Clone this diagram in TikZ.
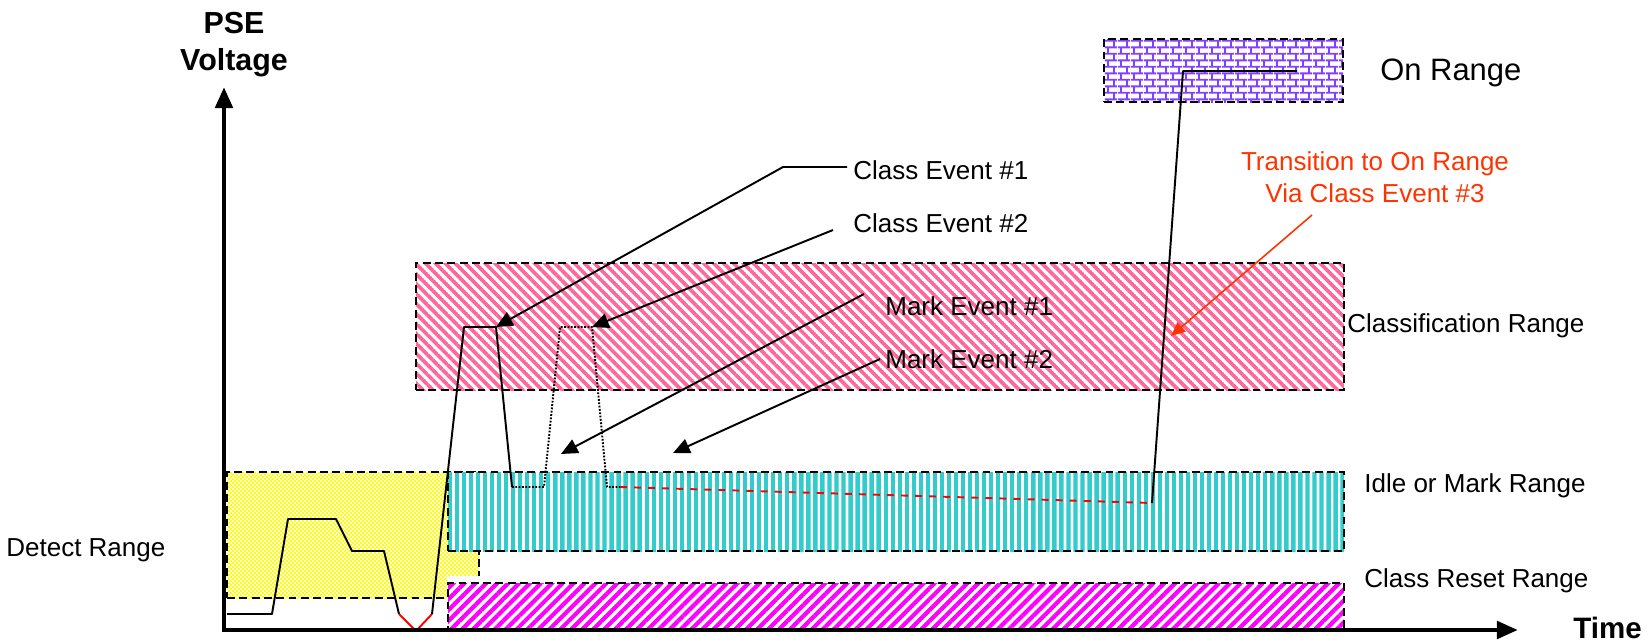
\documentclass[tikz,border=0pt]{standalone}
\usepackage{fontspec}
\setmainfont{Liberation Sans}
\usetikzlibrary{arrows.meta,patterns.meta}
\newlength\px \setlength\px{0.2mm}
\definecolor{pinkline}{RGB}{255,102,153}
\definecolor{cyanline}{RGB}{51,204,204}
\definecolor{magline}{RGB}{255,0,255}
\definecolor{brickcol}{RGB}{128,64,255}
\definecolor{trred}{RGB}{255,51,0}
\tikzdeclarepattern{
  name=stripes,
  parameters={\pgfkeysvalueof{/pgf/pattern keys/size},\pgfkeysvalueof{/pgf/pattern keys/angle},\pgfkeysvalueof{/pgf/pattern keys/line width}},
  bounding box={(0,-0.5*\pgfkeysvalueof{/pgf/pattern keys/line width}) and (\pgfkeysvalueof{/pgf/pattern keys/size},0.5*\pgfkeysvalueof{/pgf/pattern keys/line width})},
  tile size={(\pgfkeysvalueof{/pgf/pattern keys/size},\pgfkeysvalueof{/pgf/pattern keys/size})},
  tile transformation={rotate=\pgfkeysvalueof{/pgf/pattern keys/angle}},
  defaults={size/.initial=4pt,angle/.initial=45,line width/.initial=2pt},
  code={\draw[line width=\pgfkeysvalueof{/pgf/pattern keys/line width}] (0,0) -- (\pgfkeysvalueof{/pgf/pattern keys/size},0);}
}
\tikzdeclarepattern{name=checks,tile size={(2.5pt,2.5pt)},bounding box={(0,0) and (2.5pt,2.5pt)},
  code={\fill (0,0) rectangle (1.25pt,1.25pt) (1.25pt,1.25pt) rectangle (2.5pt,2.5pt);}}
\tikzdeclarepattern{name=brickwall,tile size={(7.4pt,7.6pt)},bounding box={(0,0) and (7.4pt,7.6pt)},
  code={\draw[line width=1.1pt] (0,1.9pt) -- (7.4pt,1.9pt) (0,5.7pt) -- (7.4pt,5.7pt) (1.85pt,1.9pt) -- (1.85pt,5.7pt) (5.55pt,5.7pt) -- (5.55pt,7.6pt) (5.55pt,0) -- (5.55pt,1.9pt);}}

\begin{document}
\begin{tikzpicture}[x=0.2mm,y=-0.2mm,
    rangebox/.style={draw,line width=1.1pt,dash pattern=on 4.5pt off 2.5pt,inner sep=0pt,preaction={fill=white}},
    lbl/.style={font=\fontsize{14.8}{17}\selectfont,inner sep=0pt,anchor=base west},
    wave/.style={line width=1.1pt,line join=round},
    evarrow/.style={line width=1.1pt,-{Triangle[length=9.5pt,width=8.5pt]}},
    trarrow/.style={trred,line width=0.9pt,-{Triangle[length=8pt,width=7pt]}},
    axis/.style={line width=2.8pt,{Triangle[length=12pt,width=9.7pt]}-{Triangle[length=12pt,width=9.7pt]}}]
    \useasboundingbox (0,0) rectangle (1649,643);

    \node (detectbox) at (353,535) [rangebox,pattern=checks,pattern color=yellow,minimum width=252*\px,minimum height=126*\px] {}; \fill[white] (447,576) rectangle (482,600);
    \node (resetbox) at (896,606.5) [rangebox,pattern={stripes[size=4.4pt,angle=45,line width=2.4pt]},pattern color=magline,minimum width=896*\px,minimum height=47*\px] {};
    \node (idlebox) at (896,511.5) [rangebox,pattern={stripes[size=4pt,angle=90,line width=2.5pt]},pattern color=cyanline,minimum width=896*\px,minimum height=79*\px] {};
    \node (clsbox) at (880,326.5) [rangebox,pattern={stripes[size=4pt,angle=-45,line width=2.1pt]},pattern color=pinkline,minimum width=928*\px,minimum height=127*\px] {};
    \node (onbox) at (1223.5,70.5) [rangebox,pattern=brickwall,pattern color=brickcol,minimum width=239*\px,minimum height=63*\px] {};

    \node (onlbl) at (1380,80) [lbl,font=\fontsize{17.6}{20}\selectfont] {On Range}; \node (clslbl) at (1347,332) [lbl] {Classification Range}; \node (idlelbl) at (1364,492) [lbl] {Idle or Mark Range}; \node (resetlbl) at (1364,587) [lbl] {Class Reset Range}; \node (detectlbl) at (6,556) [lbl] {Detect Range};
    \node (ce1lbl) at (853,179) [lbl] {Class Event \#1}; \node (ce2lbl) at (853,232) [lbl] {Class Event \#2}; \node (me1lbl) at (885,315) [lbl] {Mark Event \#1}; \node (me2lbl) at (885,368) [lbl] {Mark Event \#2};
    \node (translbl) at (1375,151) [lbl,anchor=north,align=center,text=trred,font=\fontsize{14.8}{18.6}\selectfont] {Transition to On Range\\Via Class Event \#3};
    \node (ylbl) at (234,12) [anchor=north,inner sep=0pt,align=center,font=\fontsize{17.3}{21}\selectfont\bfseries] {PSE\\Voltage}; \node (xlbl) at (1573,638) [lbl,font=\fontsize{16.8}{20}\selectfont\bfseries] {Time};

    \draw[wave] (227,614) -- (272,614) -- (288,519) -- (336,519) -- (352,551) -- (384,551) -- (399,614) coordinate (v1); \draw[wave,red] (v1) -- (416,631) -- (432,614) coordinate (v2);
    \draw[wave] (v2) -- (464,327) -- (496,327) coordinate (ce1) -- (512,487) coordinate (p1);
    \draw[wave,dash pattern=on 1pt off 0.9pt] (p1) -- (544,487) -- (560,327) -- (592,327) coordinate (ce2) -- (607,487) -- (620,487) coordinate (p2);
    \draw[wave,red,dash pattern=on 4pt off 4pt] (p2) -- (1152,503) coordinate (p3); \draw[wave] (p3) -- (1183,71) -- (1297,71);

    \coordinate (a1) at (847,167); \coordinate (a2) at (833,230); \coordinate (a3) at (864,294); \coordinate (a4) at (880,359); \coordinate (me1) at (561,454); \coordinate (me2) at (673,453);
    \draw[evarrow] (a1) -- ++(-64,0) -- (ce1); \draw[evarrow] (a2) -- (ce2); \draw[evarrow] (a3) -- (me1); \draw[evarrow] (a4) -- (me2);
    \coordinate (tr) at (1312,215); \coordinate (ce3) at (1171,336); \draw[trarrow] (tr) -- (ce3);

    \coordinate (ytop) at (224,87); \coordinate (origin) at (224,630); \coordinate (xend) at (1518,630); \draw[axis] (ytop) -- (origin) -- (xend);
    \end{tikzpicture}
\end{document}
